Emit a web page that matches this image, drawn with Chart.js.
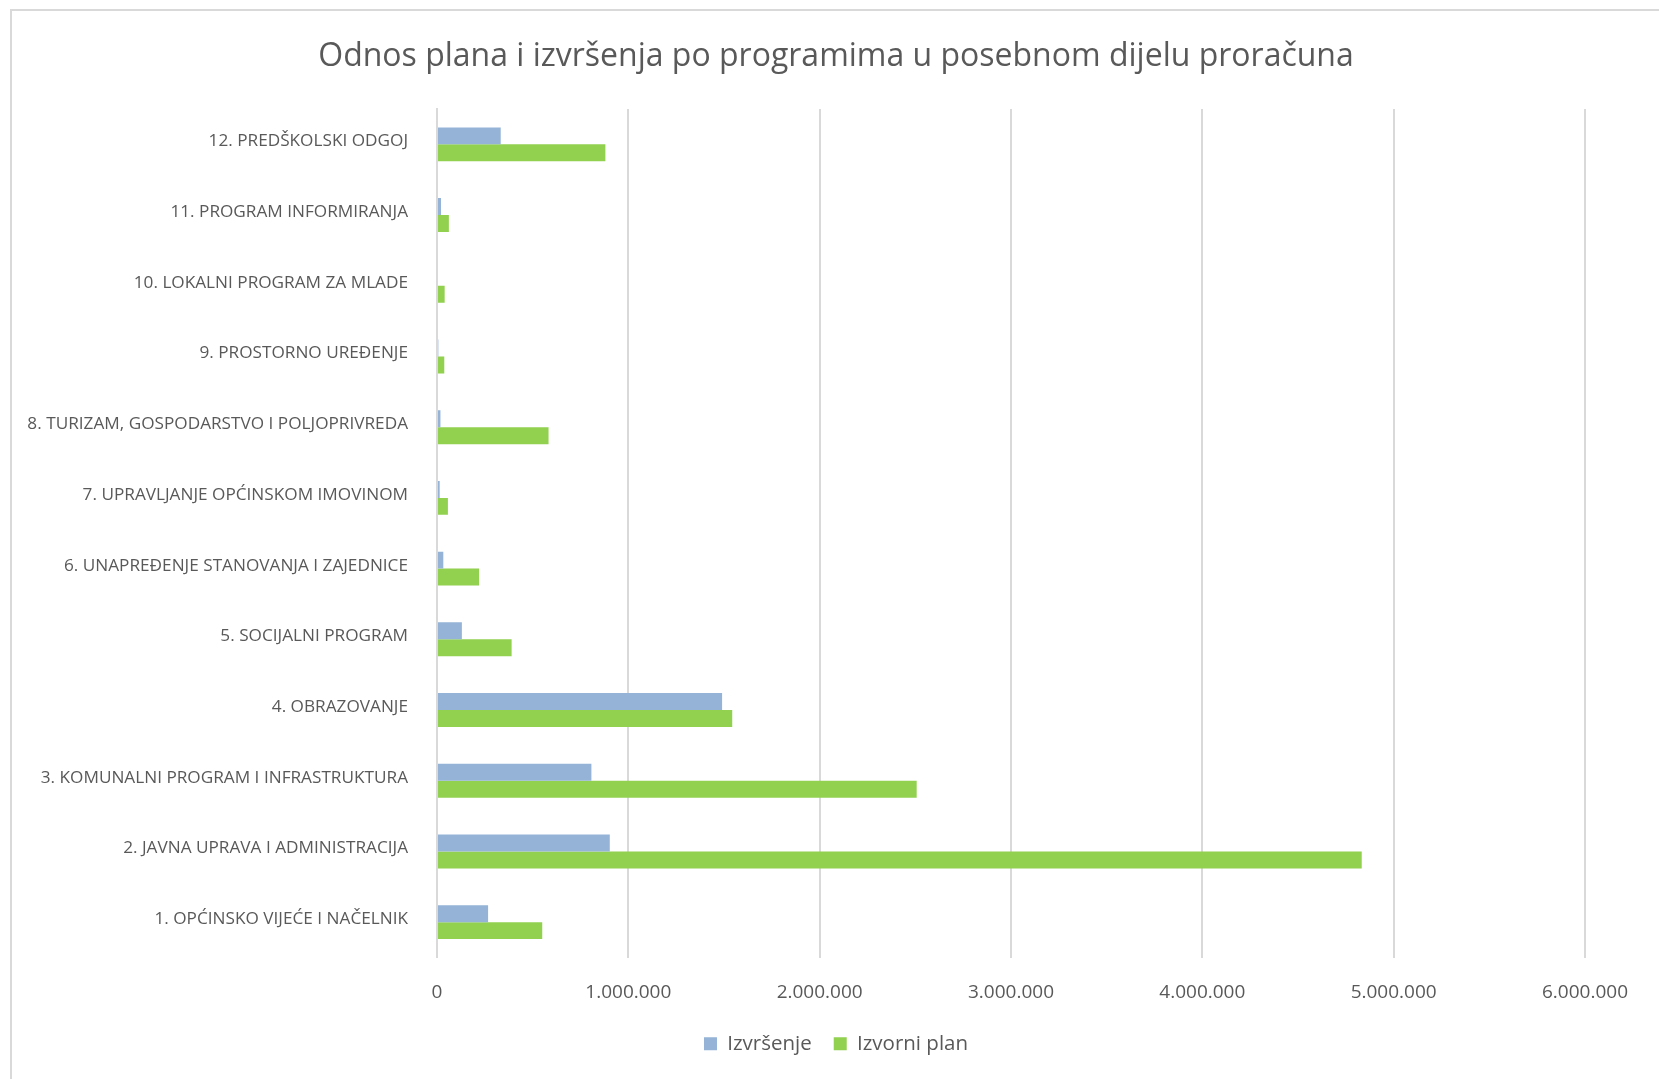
<!DOCTYPE html>
<html>
<head>
<meta charset="utf-8">
<script src="https://cdn.jsdelivr.net/npm/chart.js@4"></script>
<style>
  body { margin: 0; background: #fff; }
  #frame {
    position: absolute; left: 10px; top: 9px; width: 1700px; height: 1120px;
    border: 2px solid #d9d9d9; box-sizing: border-box;
  }
  #wrap { position: absolute; left: 0; top: 0; width: 1659px; height: 1079px; }
</style>
</head>
<body>
<div id="frame"></div>
<div id="wrap"><canvas id="bar-chart"></canvas></div>
<script>
let categories = [
  "1. OPĆINSKO VIJEĆE I NAČELNIK",
  "2. JAVNA UPRAVA I ADMINISTRACIJA",
  "3. KOMUNALNI PROGRAM I INFRASTRUKTURA",
  "4. OBRAZOVANJE",
  "5. SOCIJALNI PROGRAM",
  "6. UNAPREĐENJE STANOVANJA I ZAJEDNICE",
  "7. UPRAVLJANJE OPĆINSKOM IMOVINOM",
  "8. TURIZAM, GOSPODARSTVO I POLJOPRIVREDA",
  "9. PROSTORNO UREĐENJE",
  "10. LOKALNI PROGRAM ZA MLADE",
  "11. PROGRAM INFORMIRANJA",
  "12. PREDŠKOLSKI ODGOJ"
];
let izvrsenje = [267000, 903000, 807000, 1490000, 130000, 33000, 14000, 18000, 7000, 0, 21000, 333000];
let izvorniPlan = [550000, 4833000, 2507000, 1543000, 390000, 220000, 57000, 583000, 38000, 40000, 62000, 880000];
let tickValues = [0, 1000000, 2000000, 3000000, 4000000, 5000000, 6000000];

let textColor = "#595959";
let font = "'Open Sans', sans-serif";

function formatNum(v) {
  return String(v).replace(/\B(?=(\d{3})+(?!\d))/g, ".");
}

let ctx = document.getElementById("bar-chart").getContext("2d");
let barChart = new Chart(ctx, {
  type: "bar",
  data: {
    labels: categories,
    datasets: [
      {
        label: "Izvršenje",
        data: izvrsenje,
        backgroundColor: "#95b3d7",
        categoryPercentage: 0.48,
        barPercentage: 1
      },
      {
        label: "Izvorni plan",
        data: izvorniPlan,
        backgroundColor: "#92d050",
        categoryPercentage: 0.48,
        barPercentage: 1
      }
    ]
  },
  options: {
    indexAxis: "y",
    responsive: true,
    maintainAspectRatio: false,
    animation: false,
    // left/right padding keep the title and legend centred where the original has them
    layout: { padding: { left: 87, right: 74, top: 0, bottom: 15 } },
    plugins: {
      title: {
        display: true,
        text: "Odnos plana i izvršenja po programima u posebnom dijelu proračuna",
        color: textColor,
        font: { family: font, size: 32, weight: "normal" },
        padding: { top: 38, bottom: 32.6 }
      },
      legend: {
        position: "bottom",
        labels: {
          color: textColor,
          font: { family: font, size: 20.5 },
          boxWidth: 13,
          boxHeight: 13,
          padding: 22
        }
      },
      tooltip: { enabled: false }
    },
    scales: {
      x: {
        min: 0,
        max: 6000000,
        afterBuildTicks: function(scale) {
          scale.ticks = tickValues.map(v => ({ value: v }));
        },
        afterFit: function(scale) { scale.height = 54; },
        grid: { color: "#d9d9d9", lineWidth: 2, drawTicks: false },
        border: { display: false },
        ticks: {
          color: textColor,
          font: { family: font, size: 19 },
          padding: 24,
          maxRotation: 0,
          callback: function(value) { return formatNum(value); }
        }
      },
      y: {
        reverse: true,
        afterFit: function(scale) { scale.width = 350; },
        // long category names reach past the padded box, so don't clip them
        afterUpdate: function(scale) { scale._computeLabelArea = function() { return undefined; }; },
        grid: { display: false, drawTicks: false },
        border: { display: true, color: "#d9d9d9", width: 2 },
        ticks: {
          color: textColor,
          font: { family: font, size: 17.2 },
          padding: 29,
          labelOffset: -3,
          autoSkip: false
        }
      }
    }
  }
});
</script>
</body>
</html>
